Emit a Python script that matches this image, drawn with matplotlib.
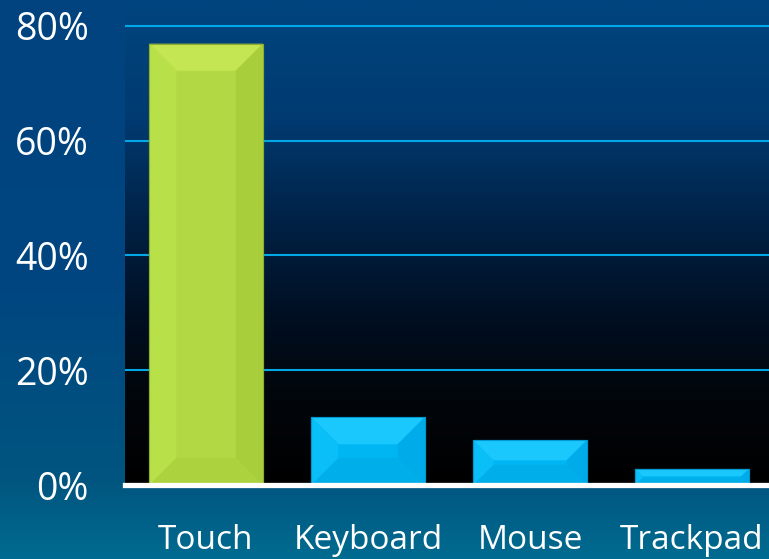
import numpy as np
import matplotlib
matplotlib.use("Agg")
import matplotlib.pyplot as plt
from matplotlib.colors import LinearSegmentedColormap
from matplotlib.patches import Polygon

categories = ["Touch", "Keyboard", "Mouse", "Trackpad"]
values = [76.9, 11.8, 7.8, 2.8]
yticks = [0, 20, 40, 60, 80]
ytick_labels = ["0%", "20%", "40%", "60%", "80%"]

plt.rcParams['font.family'] = ['Open Sans', 'DejaVu Sans']

W, H = 769, 559
fig = plt.figure(figsize=(W / 100, H / 100), dpi=100)

# figure background gradient
bg = fig.add_axes([0, 0, 1, 1], zorder=-10)
bg_cmap = LinearSegmentedColormap.from_list(
    "bg", [(0.0, "#006b90"), (0.14, "#00557f"), (0.5, "#004581"), (1.0, "#00437e")])
grad = np.linspace(0, 1, 256).reshape(-1, 1)
bg.imshow(grad, aspect="auto", cmap=bg_cmap, origin="lower", extent=[0, 1, 0, 1])
bg.set_axis_off()

left = 125 / W
bottom = (H - 485) / H
ax = fig.add_axes([left, bottom, 1 - left, 1 - bottom])
ymax = 80 + 26 / 115 * 20
xmin, xmax = -0.5, (W - 125) / 162 - 0.5
ax.set_xlim(xmin, xmax)
ax.set_ylim(0, ymax)

# plot area gradient (black bottom to blue top)
pa_cmap = LinearSegmentedColormap.from_list(
    "pa", [(0.0, "#000000"), (0.2, "#02070d"), (0.35, "#000f22"),
           (0.55, "#002246"), (0.75, "#003a70"), (1.0, "#00457f")])
ax.imshow(grad, aspect="auto", cmap=pa_cmap, origin="lower",
          extent=[xmin, xmax, 0, ymax], zorder=0)

for yv in yticks[1:]:
    ax.axhline(yv, color="#00a8e6", lw=1.5, zorder=1)

x = np.arange(len(categories))
width = 0.7
face = ["#b2d943", "#00b6f2", "#00b6f2", "#00b6f2"]
top_c = ["#c3e652", "#1ac8fd", "#1ac8fd", "#1ac8fd"]
left_c = ["#b8e048", "#0abef8", "#0abef8", "#0abef8"]
right_c = ["#a8ce3b", "#00abea", "#00abea", "#00abea"]
bot_c = ["#acd33e", "#00aeea", "#00aeea", "#00aeea"]
edge_c = ["#8fad2e", "#0098d0", "#0098d0", "#0098d0"]

bars = ax.bar(x, values, width=width, color=face, edgecolor=edge_c,
              linewidth=0.8, zorder=3)

px_x = 162.0
px_y = 485.0 / ymax
for i, b in enumerate(bars):
    x0 = b.get_x()
    x1 = x0 + b.get_width()
    h = b.get_height()
    hp = h * px_y
    bev = min(27.0, 0.45 * hp)
    bx = bev / px_x
    by = bev / px_y
    polys = [
        ([(x0, h), (x1, h), (x1 - bx, h - by), (x0 + bx, h - by)], top_c[i]),
        ([(x0, 0), (x0, h), (x0 + bx, h - by), (x0 + bx, by)], left_c[i]),
        ([(x1, 0), (x1, h), (x1 - bx, h - by), (x1 - bx, by)], right_c[i]),
        ([(x0, 0), (x1, 0), (x1 - bx, by), (x0 + bx, by)], bot_c[i]),
    ]
    for pts, c in polys:
        ax.add_patch(Polygon(pts, closed=True, facecolor=c, edgecolor="none", zorder=4))
    ax.add_patch(Polygon([(x0, 0), (x0, h), (x1, h), (x1, 0)], closed=True,
                         facecolor="none", edgecolor=edge_c[i], lw=0.8, zorder=5))

ax.axhline(0, color="white", lw=3.8, zorder=6, clip_on=False)

ax.set_yticks(yticks)
ax.set_yticklabels(ytick_labels)
ax.set_xticks(x)
ax.set_xticklabels(categories)
ax.tick_params(axis="y", length=0, pad=26, labelsize=27, labelcolor="white")
ax.tick_params(axis="x", length=0, pad=28, labelsize=24, labelcolor="white")
for s in ax.spines.values():
    s.set_visible(False)

fig.savefig("out.png", dpi=100)
